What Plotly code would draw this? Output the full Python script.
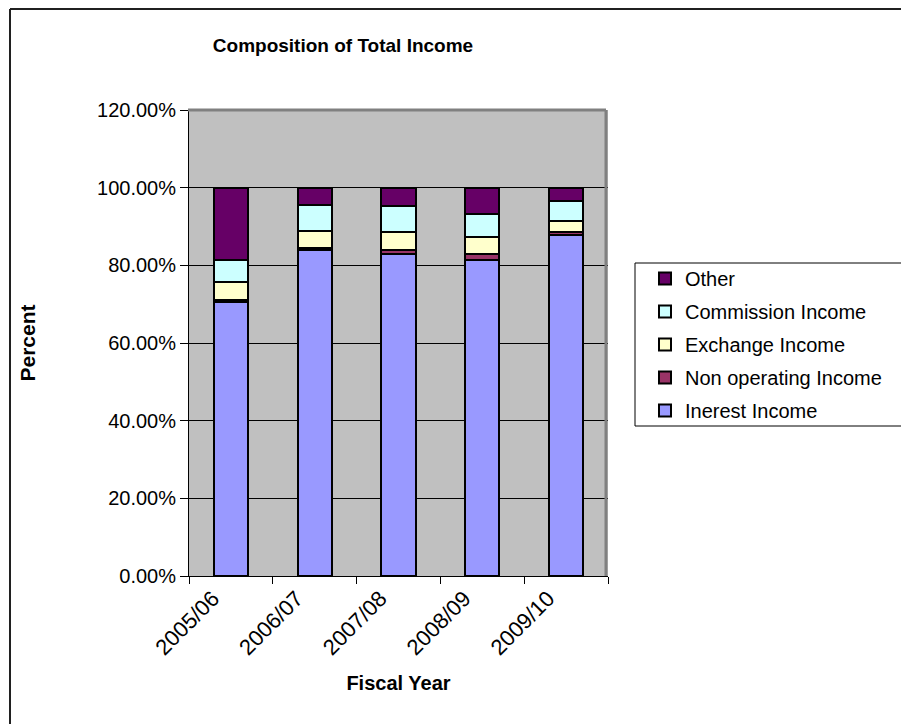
import plotly.graph_objects as go

years = ["2005/06", "2006/07", "2007/08", "2008/09", "2009/10"]
interest = [0.705, 0.840, 0.830, 0.814, 0.879]
non_operating = [0.006, 0.005, 0.009, 0.016, 0.006]
exchange = [0.047, 0.043, 0.047, 0.043, 0.030]
commission = [0.056, 0.067, 0.068, 0.059, 0.050]
other = [0.186, 0.045, 0.046, 0.068, 0.034]

series = [
    ("Inerest Income", interest, "#9999FF"),
    ("Non operating Income", non_operating, "#993366"),
    ("Exchange Income", exchange, "#FFFFCC"),
    ("Commission Income", commission, "#CCFFFF"),
    ("Other", other, "#660066"),
]

OFF = 8  # page body margin
W, H = 909 - OFF, 724 - OFF
L, R, T, B = 189, 608, 110, 576
pw, ph = R - L, B - T

def px(x):
    return (x - L) / pw

def py(y):
    return (B - y) / ph

fig = go.Figure()
for i, (name, vals, col) in enumerate(series):
    fig.add_trace(go.Bar(
        x=years, y=vals, name=name, legendgroup=f"g{i}", legendrank=1000 - i,
        marker=dict(color=col, line=dict(color="black", width=2)),
    ))

font = "Liberation Sans, Arial, sans-serif"
fig.update_layout(
    width=W, height=H,
    margin=dict(l=L - OFF, r=909 - R, t=T - OFF, b=724 - B, autoexpand=False),
    barmode="stack", bargap=0.59,
    paper_bgcolor="white", plot_bgcolor="#C0C0C0",
    font=dict(family=font, size=20, color="black"),
    title=dict(text="<b>Composition of Total Income</b>", font=dict(size=19),
               x=px(343), xref="paper", xanchor="center",
               y=1 - (45 - OFF) / H, yref="container", yanchor="middle"),
    showlegend=True,
    legend=dict(traceorder="grouped", x=px(645), y=py(259), xanchor="left", yanchor="top",
                bgcolor="rgba(0,0,0,0)", borderwidth=0, tracegroupgap=4,
                font=dict(size=20)),
    xaxis=dict(type="category", tickangle=-45, ticks="outside", tickson="boundaries",
               ticklen=7, tickcolor="black", showline=True, linecolor="black", linewidth=1,
               showgrid=False, tickfont=dict(size=22), ticklabelshift=-18,
               title=dict(text="<b>Fiscal Year</b>", font=dict(size=20), standoff=17)),
    yaxis=dict(range=[0, 1.2], dtick=0.2, tickformat=".2%", ticks="outside", ticklen=8,
               tickcolor="black", showline=True, linecolor="black", linewidth=1,
               showgrid=True, gridcolor="black", gridwidth=1, zeroline=False,
               tickfont=dict(size=20),
               title=dict(text="<b>Percent</b>", font=dict(size=21), standoff=55)),
    shapes=[
        dict(type="line", xref="paper", yref="paper", x0=px(188), x1=px(606), y0=py(110), y1=py(110),
             line=dict(color="#808080", width=3), layer="above"),
        dict(type="line", xref="paper", yref="paper", x0=px(606), x1=px(606), y0=py(110), y1=py(576),
             line=dict(color="#808080", width=3), layer="above"),
        dict(type="rect", xref="paper", yref="paper", x0=px(635), x1=px(915), y0=py(426), y1=py(263),
             line=dict(color="black", width=1)),
        dict(type="line", xref="paper", yref="paper", x0=px(10), x1=px(920), y0=py(9), y1=py(9),
             line=dict(color="#202020", width=2)),
        dict(type="line", xref="paper", yref="paper", x0=px(10), x1=px(10), y0=py(9), y1=py(730),
             line=dict(color="#202020", width=2)),
    ],
)

fig.write_html("out.html")
